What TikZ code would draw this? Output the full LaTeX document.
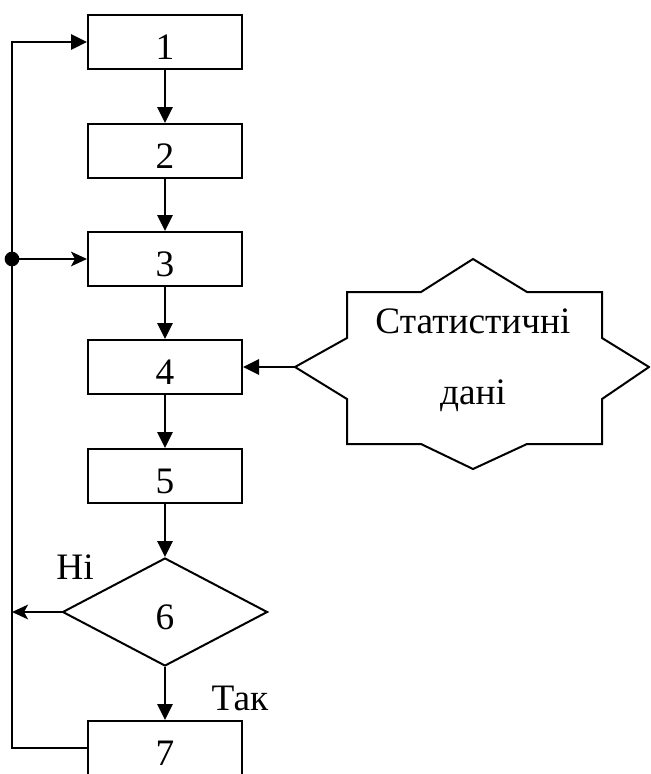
\documentclass[tikz,border=0pt]{standalone}
\usepackage{fontspec}
\setmainfont{Liberation Serif}
\usetikzlibrary{arrows.meta,shapes.geometric}
\begin{document}
\begin{tikzpicture}[x=0.75pt,y=-0.75pt,line width=1.5pt,
  txt/.style={font=\fontsize{28}{32}\selectfont},
  box/.style={draw,rectangle,minimum width=115.5pt,minimum height=40.5pt,inner sep=0pt,txt,text height=26pt,text depth=0pt},
  dec/.style={draw,diamond,minimum width=153.75pt,minimum height=81pt,inner sep=0pt,txt,text height=26pt,text depth=0pt},
  flow/.style={-{Triangle[length=12pt,width=11.5pt]}},
  back/.style={-{Stealth[length=12pt,width=11pt,inset=3pt]}},
  lbl/.style={txt,inner sep=0pt}]
\useasboundingbox (0,0) rectangle (650,774);
\clip (0,0) rectangle (650,774);
\node[box] (b1) at (165,42) {1};
\node[box] (b2) at (165,151) {2};
\node[box] (b3) at (165,259) {3};
\node[box] (b4) at (165,367) {4};
\node[box] (b5) at (165,476) {5};
\node[dec] (b6) at (165,612) {6};
\node[box] (b7) at (165,748) {7};
% star
\draw[line join=miter] (473,259) -- (527,292) -- (602,292) -- (602,338) -- (649,367)
  -- (602,399) -- (602,444) -- (527,444) -- (473,469) -- (421,444) -- (347,444)
  -- (347,399) -- (295,367) -- (347,338) -- (347,292) -- (421,292) -- cycle;
\coordinate (sl) at (295,367);
\node[txt,align=center,font=\fontsize{28}{53}\selectfont] (st) at (473,360) {Статистичні\\дані};
% flow
\draw[flow] (b1) -- (b2);
\draw[flow] (b2) -- (b3);
\draw[flow] (b3) -- (b4);
\draw[flow] (b4) -- (b5);
\draw[flow] (b5) -- (b6);
\draw[flow] (b6) -- (b7);
\draw[flow] (sl) -- (b4.east);
% loop
\coordinate (lt) at (12,42);
\coordinate (ld) at (12,259);
\coordinate (lm) at (12,612);
\coordinate (lb) at (12,748);
\draw[flow] (b7.west) -- (lb) -- (lt) -- (b1.west);
\draw[back] (ld) -- (b3.west);
\draw[back] (b6.west) -- (lm);
\fill (ld) circle (5.5pt);
\node[lbl] (no) at (75,567) {Ні};
\node[lbl] (yes) at (240,698) {Так};
\end{tikzpicture}
\end{document}
